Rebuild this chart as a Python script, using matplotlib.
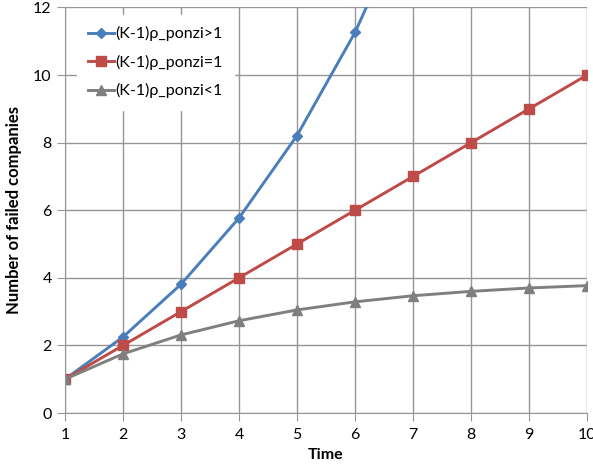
import matplotlib.pyplot as plt

# data
time = [1, 2, 3, 4, 5, 6, 7, 8, 9, 10]
ponzi_gt1 = [1, 2.25, 3.81, 5.77, 8.21, 11.26, 15.07]
ponzi_eq1 = [1, 2, 3, 4, 5, 6, 7, 8, 9, 10]
ponzi_lt1 = [1, 1.75, 2.31, 2.73, 3.05, 3.29, 3.47, 3.60, 3.70, 3.77]
labels = ['(K-1)ρ_ponzi>1', '(K-1)ρ_ponzi=1', '(K-1)ρ_ponzi<1']

plt.rcParams['font.family'] = ['Lato', 'DejaVu Sans']

fig = plt.figure(figsize=(5.93, 4.68), dpi=100)
ax = fig.add_axes([0.1096, 0.1175, 0.8803, 0.8665])

ax.plot(time[:len(ponzi_gt1)], ponzi_gt1, color='#4A7EBB', lw=2.1, marker='D', ms=5, label=labels[0])
ax.plot(time, ponzi_eq1, color='#BE4B48', lw=2.1, marker='s', ms=6.5, label=labels[1])
ax.plot(time, ponzi_lt1, color='#7F7F7F', lw=2.1, marker='^', ms=7, label=labels[2])

ax.set_xlim(1, 10)
ax.set_ylim(0, 12)
ax.set_xticks(range(1, 11))
ax.set_yticks(range(0, 13, 2))
ax.grid(True, color='#969696', lw=1)
ax.set_axisbelow(True)
for s in ['top', 'right']:
    ax.spines[s].set_visible(False)
for s in ['left', 'bottom']:
    ax.spines[s].set_color('#969696')
ax.tick_params(colors='#969696', labelcolor='black', labelsize=11.5, length=6)
ax.tick_params(axis='x', pad=5)

ax.set_xlabel('Time', fontsize=11.5, fontweight='bold', labelpad=4)
ax.set_ylabel('Number of failed companies', fontsize=12, fontweight='bold', labelpad=8)

leg = ax.legend(loc='upper left', bbox_to_anchor=(0.032, 0.97), frameon=True, fontsize=11.5,
                handlelength=1.6, handletextpad=0.1, labelspacing=0.85, borderaxespad=0)
leg.get_frame().set_edgecolor('white')
leg.get_frame().set_facecolor('white')
leg.get_frame().set_alpha(1)
leg.get_frame().set_boxstyle('square', pad=0.3)

fig.savefig('out.png', dpi=100)
